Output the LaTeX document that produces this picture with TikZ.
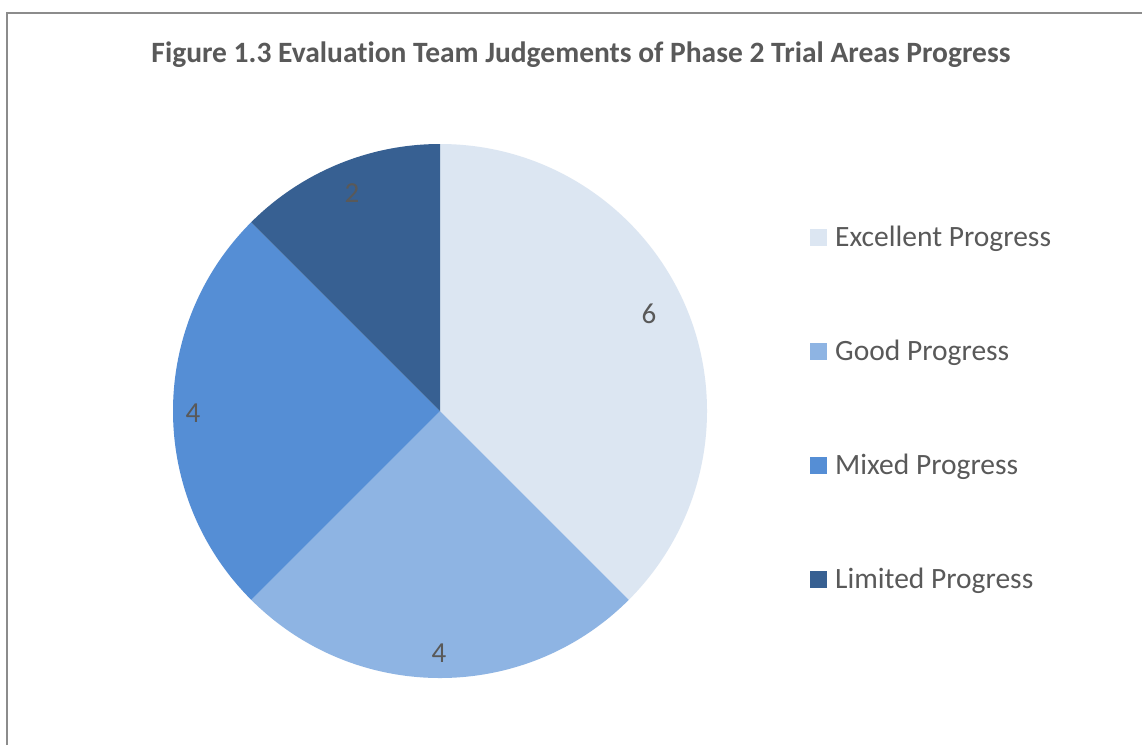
\documentclass[tikz,border=0pt]{standalone}
\usepackage{fontspec}
\setmainfont{Carlito}[Ligatures=NoCommon]
\definecolor{txt}{HTML}{595959}
\definecolor{cExc}{HTML}{DCE6F2}
\definecolor{cGood}{HTML}{8EB4E3}
\definecolor{cMix}{HTML}{558ED5}
\definecolor{cLim}{HTML}{376092}
\definecolor{frame}{HTML}{8C8C8C}
\tikzset{
  lbl/.style={text=txt, font=\fontsize{29}{33}\selectfont, inner sep=0pt},
  legtxt/.style={text=txt, font=\fontsize{29.5}{34}\selectfont, anchor=base west, inner sep=0pt},
  legbox/.style={minimum width=17pt, minimum height=17pt, inner sep=0pt, draw=none},
}
\begin{document}
\begin{tikzpicture}[x=1pt,y=-1pt]
\useasboundingbox (0,0) rectangle (1142,745);
\fill[white] (0,0) rectangle (1142,745);
\draw[frame, line width=2pt] (7,745) -- (7,13) -- (1142,13);
\node[text=txt, font=\bfseries\fontsize{29.5}{34}\selectfont, inner sep=0pt, anchor=base] (title) at (581,62) {Figure 1.3 Evaluation Team Judgements of Phase 2 Trial Areas Progress};
% pie, center (440,411), r=267 ; y axis flipped so angles measured clockwise
\coordinate (c) at (440,411);
\fill[cExc] (c) -- ++(-90:267) arc[start angle=-90, end angle=45, radius=267] -- cycle;
\fill[cGood] (c) -- ++(45:267) arc[start angle=45, end angle=135, radius=267] -- cycle;
\fill[cMix] (c) -- ++(135:267) arc[start angle=135, end angle=225, radius=267] -- cycle;
\fill[cLim] (c) -- ++(225:267) arc[start angle=225, end angle=270, radius=267] -- cycle;
\node[lbl] (v6) at (649,314) {6};
\node[lbl] (v4a) at (439,653) {4};
\node[lbl] (v4b) at (193,413) {4};
\node[lbl] (v2) at (352,193) {2};
% legend
\node[legbox, fill=cExc] (k1) at (818.5,237) {};
\node[legtxt] (t1) at (835,246) {Excellent Progress};
\node[legbox, fill=cGood] (k2) at (818.5,351) {};
\node[legtxt] (t2) at (835,360) {Good Progress};
\node[legbox, fill=cMix] (k3) at (818.5,465) {};
\node[legtxt] (t3) at (835,474) {Mixed Progress};
\node[legbox, fill=cLim] (k4) at (818.5,579) {};
\node[legtxt] (t4) at (835,588) {Limited Progress};
\end{tikzpicture}
\end{document}
